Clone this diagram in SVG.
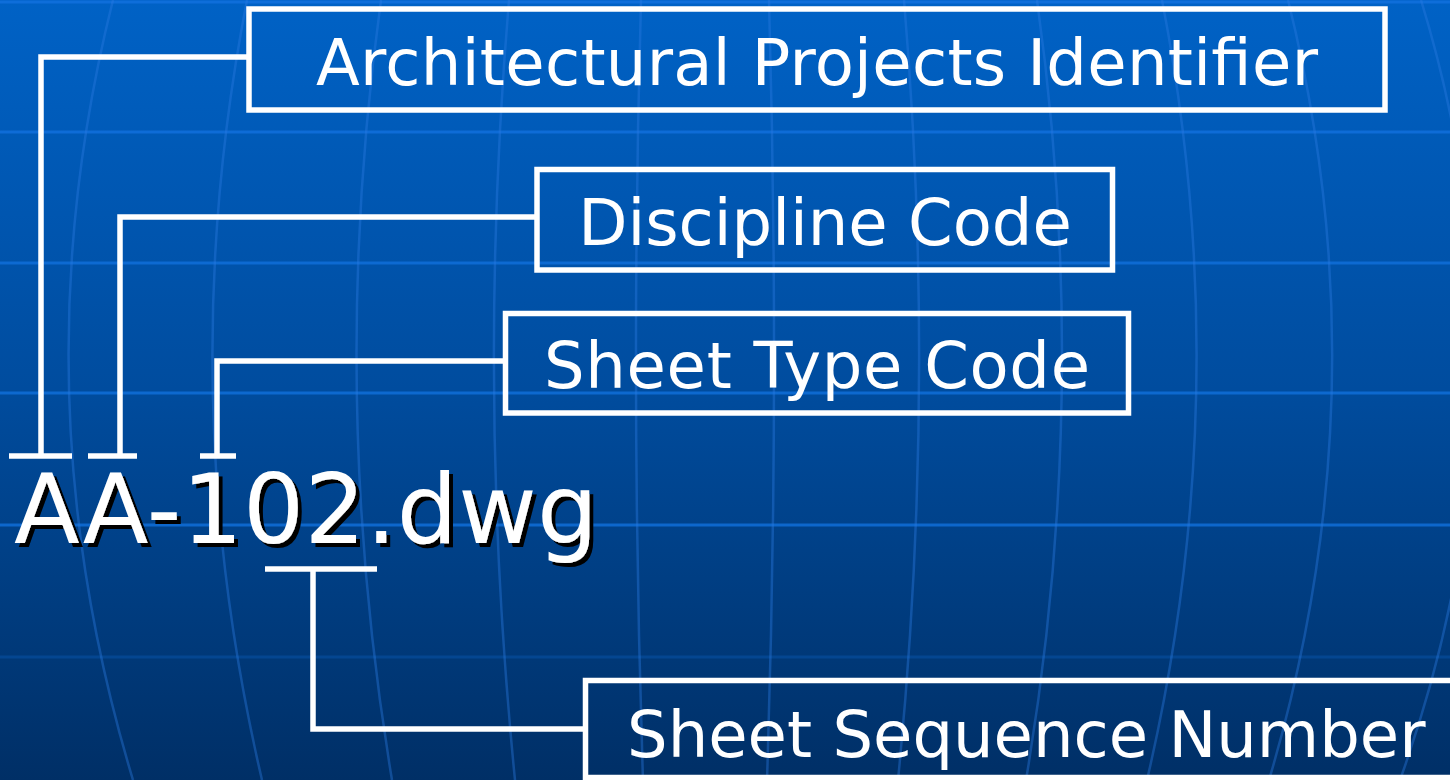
<svg xmlns="http://www.w3.org/2000/svg" width="1450" height="780" viewBox="0 0 1450 780">
  <defs>
    <linearGradient id="bg" x1="0" y1="0" x2="0" y2="1">
      <stop offset="0" stop-color="#0062c6"/>
      <stop offset="0.5" stop-color="#004c9e"/>
      <stop offset="1" stop-color="#002f66"/>
    </linearGradient>
    <filter id="shadow" x="-5%" y="-10%" width="115%" height="130%">
      <feDropShadow dx="4" dy="4" stdDeviation="0" flood-color="#000000" flood-opacity="1"/>
    </filter>
  </defs>
  <style>
    .hl { stroke: #1070dc; stroke-width: 3; fill: none; }
    .ml { stroke: #2a7ae0; stroke-width: 2.5; fill: none; opacity: 0.4; }
    .box { fill: none; stroke: #ffffff; stroke-width: 5.5; }
    .con { fill: none; stroke: #ffffff; stroke-width: 5.5; }
    .lbl { font-family: "DejaVu Sans", Verdana, sans-serif; font-size: 64px; fill: #ffffff; }
    .big { font-family: "DejaVu Sans", Verdana, sans-serif; font-size: 96px; fill: #ffffff; }
  </style>

  <g id="background">
    <rect x="0" y="0" width="1450" height="780" fill="url(#bg)"/>
    <line class="hl" x1="0" y1="2" x2="1450" y2="2" opacity="0.9"/>
    <line class="hl" x1="0" y1="132" x2="1450" y2="132" opacity="0.85"/>
    <line class="hl" x1="0" y1="263" x2="1450" y2="263" opacity="0.8"/>
    <line class="hl" x1="0" y1="393" x2="1450" y2="393" opacity="0.8"/>
    <line class="hl" x1="0" y1="525" x2="1450" y2="525" opacity="0.8"/>
    <line class="hl" x1="0" y1="657" x2="1450" y2="657" opacity="0.25"/>
    <path class="ml" d="M113 0 Q15 390 133 780"/>
    <path class="ml" d="M247 0 Q171 390 262 780"/>
    <path class="ml" d="M381 0 Q327 390 392 780"/>
    <path class="ml" d="M509 0 Q476 390 515 780"/>
    <path class="ml" d="M641 0 Q630 390 643 780"/>
    <path class="ml" d="M769 0 Q780 390 767 780"/>
    <path class="ml" d="M904 0 Q937 390 898 780"/>
    <path class="ml" d="M1037 0 Q1092 390 1026 780"/>
    <path class="ml" d="M1162 0 Q1238 390 1147 780"/>
    <path class="ml" d="M1288 0 Q1385 390 1269 780"/>
    <path class="ml" d="M1421 0 Q1540 390 1400 780"/>
  </g>

  <g id="connectors">
    <polyline class="con" points="249,57 41,57 41,456"/>
    <line class="con" x1="9" y1="456" x2="72" y2="456"/>
    <polyline class="con" points="537,217 120,217 120,456"/>
    <line class="con" x1="88" y1="456" x2="137" y2="456"/>
    <polyline class="con" points="505,361 217,361 217,456"/>
    <line class="con" x1="200" y1="456" x2="236" y2="456"/>
    <polyline class="con" points="585,729 313,729 313,569"/>
    <line class="con" x1="265" y1="569" x2="377" y2="569"/>
  </g>

  <g id="filename">
    <text class="big" x="14" y="543" textLength="584" lengthAdjust="spacing" filter="url(#shadow)">AA-102.dwg</text>
  </g>

  <g id="node-project">
    <rect class="box" x="249" y="9" width="1136" height="101"/>
    <text class="lbl" x="817" y="85" text-anchor="middle" textLength="1002" lengthAdjust="spacing">Architectural Projects Identifier</text>
  </g>

  <g id="node-discipline">
    <rect class="box" x="537" y="169.5" width="575.5" height="100.5"/>
    <text class="lbl" x="825" y="245" text-anchor="middle">Discipline Code</text>
  </g>

  <g id="node-sheettype">
    <rect class="box" x="505.5" y="313.5" width="623" height="99.5"/>
    <text class="lbl" x="817" y="388" text-anchor="middle" textLength="546" lengthAdjust="spacing">Sheet Type Code</text>
  </g>

  <g id="node-sequence">
    <rect class="box" x="585.5" y="680.5" width="900" height="97"/>
    <text class="lbl" x="627" y="757">Sheet Sequence Number</text>
  </g>
</svg>
